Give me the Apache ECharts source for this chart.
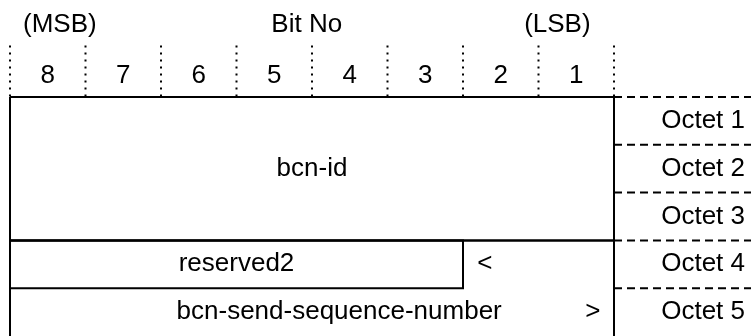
<!DOCTYPE html>
<html><head><meta charset="utf-8">
<script src="https://cdn.jsdelivr.net/npm/echarts@6/dist/echarts.min.js"></script>
<style>html,body{margin:0;padding:0;background:#fff}#c{width:751px;height:336px}</style>
</head><body><div id="c"></div>
<script>
// ---- data ----
const bitLabels = ['8','7','6','5','4','3','2','1'];
const headerLabels = ['(MSB)','Bit No','(LSB)'];
const headerCols = [0.66, 3.93, 7.25];
const octetLabels = ['Octet 1','Octet 2','Octet 3','Octet 4','Octet 5'];
const fieldNames = ['bcn-id','reserved2','<','bcn-send-sequence-number','>'];
const fieldCols = [4, 3, 6.29, 4.36, 7.72];
const fieldRows = [1.5, 3.5, 3.5, 4.5, 4.5];
// boxes: [colStart, colEnd, rowStart, rowEnd]
const boxColStart = [0, 0, 0];
const boxColEnd   = [8, 6, 8];
const boxRowStart = [0, 3, 3];
const boxRowEnd   = [3, 4, 5];
const boxOpenBottom = [false, false, true];
const octetBoundaries = [0, 1, 2, 3, 4];
const bitBoundaries = [0, 1, 2, 3, 4, 5, 6, 7, 8];

const FONT = '"Liberation Sans", Arial, sans-serif';
const FS = 26;
const chart = echarts.init(document.getElementById('c'), null, {renderer:'canvas'});

function textSeries(items, align) {
  return {
    type: 'custom', coordinateSystem: 'cartesian2d', clip: false, silent: true,
    data: items.map(d => [d.x, d.y, d.t]),
    renderItem: function (params, api) {
      const p = api.coord([api.value(0), api.value(1)]);
      const t = items[params.dataIndex].t;
      return { type: 'text', x: p[0], y: p[1],
        style: { text: t, fill: '#000', font: FS + 'px ' + FONT,
                 textAlign: align || 'center', textVerticalAlign: 'middle' } };
    }
  };
}

const headerItems = headerLabels.map((t, i) => ({x: headerCols[i], y: -1.5, t}));
const bitItems = bitLabels.map((t, i) => ({x: i + 0.5, y: -0.44, t}));
const octetItems = octetLabels.map((t, i) => ({x: 9.735, y: i + 0.5, t}));
const fieldItems = fieldNames.map((t, i) => ({x: fieldCols[i], y: fieldRows[i], t}));

const series = [
  // dotted bit boundaries
  { type: 'custom', coordinateSystem: 'cartesian2d', clip: false, silent: true,
    data: bitBoundaries.map(b => [b]),
    renderItem: function (params, api) {
      const a = api.coord([api.value(0), -1.08]);
      const b = api.coord([api.value(0), 0]);
      return { type: 'line', shape: {x1: a[0], y1: a[1], x2: b[0], y2: b[1]},
        style: { stroke: '#000', lineWidth: 2, lineDash: [2, 5] } };
    } },
  // dashed octet boundaries to the right
  { type: 'custom', coordinateSystem: 'cartesian2d', clip: false, silent: true,
    data: octetBoundaries.map(r => [r]),
    renderItem: function (params, api) {
      const a = api.coord([8, api.value(0)]);
      const b = api.coord([10, api.value(0)]);
      return { type: 'line', shape: {x1: a[0], y1: a[1], x2: b[0], y2: b[1]},
        style: { stroke: '#000', lineWidth: 2, lineDash: [8, 5] } };
    } },
  // boxes
  { type: 'custom', coordinateSystem: 'cartesian2d', clip: false, silent: true,
    data: boxColStart.map((c, i) => [c, boxColEnd[i], boxRowStart[i], boxRowEnd[i]]),
    renderItem: function (params, api) {
      const a = api.coord([api.value(0), api.value(2)]);
      const b = api.coord([api.value(1), api.value(3)]);
      const pts = boxOpenBottom[params.dataIndex]
        ? [[a[0], b[1]], [a[0], a[1]], [b[0], a[1]], [b[0], b[1]]]
        : [[a[0], a[1]], [b[0], a[1]], [b[0], b[1]], [a[0], b[1]], [a[0], a[1]]];
      return { type: 'polyline', shape: { points: pts },
        style: { fill: 'none', stroke: '#000', lineWidth: 2, lineJoin: 'miter' } };
    } },
  textSeries(headerItems),
  textSeries(bitItems),
  textSeries(octetItems, 'right'),
  textSeries(fieldItems)
];

chart.setOption({
  animation: false,
  grid: { left: 10, width: 604, top: 97, height: 241 },
  xAxis: { type: 'value', min: 0, max: 8, show: false },
  yAxis: { type: 'value', min: 0, max: 5, inverse: true, show: false },
  series: series
});
</script></body></html>
